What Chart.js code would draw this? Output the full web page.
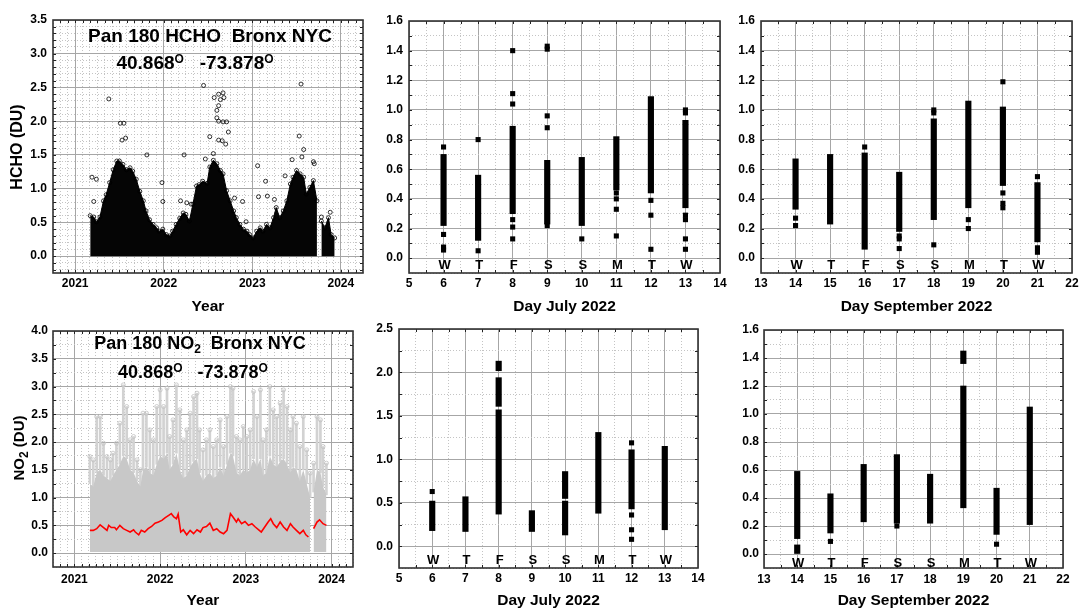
<!DOCTYPE html>
<html><head><meta charset="utf-8">
<script src="https://cdn.jsdelivr.net/npm/chart.js@4.4.1/dist/chart.umd.min.js"></script>
<style>
html,body{margin:0;padding:0;background:#fff;}
body{width:1079px;height:608px;overflow:hidden;position:relative;font-family:"Liberation Sans",Arial,Helvetica,sans-serif;}
canvas{position:absolute;}
.ttl{position:absolute;transform:translate(-50%,-50%);white-space:pre;font-weight:bold;line-height:1;color:#000;z-index:5;}
.ytl{position:absolute;transform:translate(-50%,-50%) rotate(-90deg);white-space:pre;font-weight:bold;line-height:1;color:#000;z-index:5;}
.sup{font-size:12px;position:relative;top:-6px;}
.sub{font-size:12px;position:relative;top:4px;}
</style></head>
<body>
<canvas id="c1"></canvas><canvas id="c2"></canvas><canvas id="c3"></canvas>
<canvas id="c4"></canvas><canvas id="c5"></canvas><canvas id="c6"></canvas>
<div class="ttl" style="left:210px;top:35px;font-size:19px">Pan 180 HCHO  Bronx NYC</div>
<div class="ttl" style="left:195px;top:62px;font-size:19px">40.868<span class="sup">O</span>   -73.878<span class="sup">O</span></div>
<div class="ttl" style="left:200px;top:343px;font-size:18px">Pan 180 NO<span class="sub">2</span>  Bronx NYC</div>
<div class="ttl" style="left:193px;top:372px;font-size:18px">40.868<span class="sup">O</span>   -73.878<span class="sup">O</span></div>
<div class="ytl" style="left:17px;top:147px;font-size:16px">HCHO (DU)</div>
<div class="ytl" style="left:18px;top:448px;font-size:15px">NO<span class="sub">2</span> (DU)</div>
<script>
// ---------- DATA ----------
const weekdayLetters = ['W','T','F','S','S','M','T','W'];
const julyDays = [6,7,8,9,10,11,12,13];
const septDays = [14,15,16,17,18,19,20,21];

// HCHO full record: upper edge of the dense cloud
const hchoYears = [2021.17,2021.21,2021.24,2021.28,2021.32,2021.35,2021.39,2021.43,2021.47,2021.50,
 2021.54,2021.58,2021.62,2021.65,2021.69,2021.73,2021.77,2021.80,2021.84,2021.88,
 2021.92,2021.95,2021.99,2022.03,2022.07,2022.10,2022.14,2022.18,2022.22,2022.25,
 2022.29,2022.33,2022.37,2022.40,2022.44,2022.49,2022.52,2022.56,2022.60,2022.64,
 2022.67,2022.71,2022.75,2022.79,2022.82,2022.86,2022.90,2022.94,2022.97,2023.01,
 2023.05,2023.09,2023.12,2023.16,2023.20,2023.24,2023.27,2023.31,2023.35,2023.39,
 2023.43,2023.46,2023.50,2023.54,2023.58,2023.61,2023.65,2023.69,2023.73,2023.75,
 2023.78,2023.82,2023.86,2023.89,2023.93];
const hchoTop = [0.60,0.58,0.51,0.58,0.82,0.91,1.09,1.28,1.41,1.41,
 1.36,1.28,1.31,1.26,1.14,0.96,0.82,0.67,0.54,0.47,
 0.42,0.37,0.40,0.32,0.30,0.37,0.47,0.56,0.64,0.62,
 0.52,0.77,1.04,1.06,1.11,1.08,1.32,1.42,1.37,1.27,
 1.22,0.97,0.82,0.67,0.57,0.47,0.40,0.37,0.32,0.27,
 0.37,0.42,0.37,0.47,0.42,0.57,0.72,0.57,0.67,0.82,
 1.07,1.17,1.27,1.22,1.17,0.92,1.02,1.12,0.82,null,
 0.52,0.42,0.57,0.32,0.27];
// HCHO isolated high values
const hchoOutYears = [2021.19,2021.24,2021.21,2021.38,2021.51,2021.55,2021.53,2021.57,2021.81,2021.98,
 2021.99,2022.23,2022.19,2022.26,2022.31,2022.45,2022.57,2022.62,2022.64,2022.62,
 2022.60,2022.67,2022.68,2022.60,2022.62,2022.67,2022.71,2022.52,2022.62,2022.66,
 2022.73,2022.70,2022.56,2022.47,2022.80,2022.89,2022.93,2023.06,2023.07,2023.15,
 2023.17,2023.25,2023.37,2023.45,2023.53,2023.55,2023.58,2023.56,2023.69,2023.70,
 2023.78,2023.88];
const hchoOutValues = [1.17,1.14,0.81,2.33,1.97,1.97,1.72,1.75,1.50,1.09,
 0.81,1.50,0.82,0.79,0.77,2.53,2.35,2.40,2.32,2.23,
 2.16,2.42,2.35,2.05,2.00,1.99,1.99,1.77,1.72,1.71,
 1.84,1.66,1.52,1.44,0.86,0.81,0.51,1.34,0.88,1.11,
 0.89,0.84,1.19,1.43,1.78,2.55,1.58,1.47,1.40,1.37,
 0.58,0.65];

// NO2 full record: dense core top and column maxima
const no2Years = [2021.18,2021.22,2021.26,2021.30,2021.34,2021.38,2021.42,2021.45,2021.49,2021.53,
 2021.57,2021.61,2021.65,2021.69,2021.73,2021.77,2021.80,2021.84,2021.88,2021.92,
 2021.96,2022.00,2022.04,2022.08,2022.11,2022.15,2022.19,2022.23,2022.27,2022.31,
 2022.35,2022.39,2022.43,2022.46,2022.50,2022.54,2022.58,2022.62,2022.66,2022.70,
 2022.74,2022.78,2022.82,2022.85,2022.89,2022.93,2022.97,2023.01,2023.05,2023.09,
 2023.13,2023.17,2023.20,2023.24,2023.28,2023.32,2023.36,2023.40,2023.44,2023.48,
 2023.52,2023.55,2023.59,2023.63,2023.67,2023.71,2023.75,2023.77,2023.79,2023.83,
 2023.87,2023.90,2023.94];
const no2Max = [1.74,1.68,2.46,2.46,1.98,1.74,1.68,1.80,1.98,2.34,
 3.03,2.64,2.04,2.10,1.68,1.50,2.52,2.52,2.22,2.04,
 2.64,2.94,2.64,2.97,2.10,2.40,3.03,2.58,2.04,2.22,
 2.52,2.82,2.88,2.22,1.86,2.04,2.22,1.92,2.04,2.40,
 1.92,2.46,3.00,2.97,2.10,2.04,2.28,2.10,2.22,2.91,
 2.46,2.94,2.04,2.22,3.00,2.58,2.46,2.70,2.94,2.64,
 2.22,2.46,2.34,1.92,2.46,1.86,1.44,null,1.62,2.46,
 2.40,1.92,1.62];
const no2Core = [1.25,1.20,1.45,1.50,1.40,1.35,1.30,1.40,1.50,1.60,
 1.75,1.70,1.50,1.45,1.30,1.20,1.50,1.55,1.45,1.40,
 1.60,1.75,1.70,1.80,1.50,1.60,1.80,1.50,1.35,1.40,
 1.55,1.65,1.70,1.45,1.30,1.40,1.45,1.35,1.40,1.55,
 1.40,1.60,1.80,1.75,1.45,1.40,1.50,1.45,1.50,1.70,
 1.55,1.70,1.40,1.45,1.75,1.60,1.55,1.65,1.70,1.60,
 1.45,1.55,1.50,1.30,1.50,1.25,1.00,null,1.10,1.50,
 1.45,1.20,1.05];
// NO2 running mean (red)
const no2MeanYears = [2021.18,2021.22,2021.26,2021.30,2021.34,2021.38,2021.40,2021.43,2021.47,2021.49,
 2021.53,2021.57,2021.61,2021.65,2021.69,2021.71,2021.75,2021.78,2021.82,2021.86,
 2021.90,2021.94,2021.98,2022.02,2022.06,2022.10,2022.13,2022.16,2022.19,2022.21,
 2022.24,2022.27,2022.31,2022.35,2022.39,2022.43,2022.47,2022.50,2022.54,2022.58,
 2022.62,2022.66,2022.70,2022.74,2022.78,2022.82,2022.85,2022.89,2022.91,2022.95,
 2022.99,2023.03,2023.07,2023.11,2023.15,2023.18,2023.22,2023.26,2023.29,2023.32,
 2023.36,2023.40,2023.44,2023.48,2023.52,2023.55,2023.59,2023.63,2023.67,2023.70,
 2023.73,2023.76,2023.79,2023.83,2023.86,2023.90,2023.94];
const no2Mean = [0.41,0.41,0.44,0.51,0.46,0.41,0.50,0.46,0.46,0.42,
 0.50,0.44,0.41,0.38,0.42,0.38,0.33,0.41,0.38,0.44,
 0.48,0.54,0.56,0.59,0.64,0.68,0.71,0.65,0.62,0.70,
 0.38,0.42,0.33,0.41,0.35,0.42,0.38,0.46,0.48,0.54,
 0.41,0.44,0.38,0.35,0.41,0.71,0.65,0.56,0.62,0.53,
 0.57,0.50,0.53,0.47,0.42,0.38,0.47,0.56,0.62,0.53,
 0.46,0.56,0.47,0.41,0.53,0.47,0.41,0.35,0.41,0.33,
 0.29,null,0.44,0.56,0.60,0.53,0.50];

// HCHO July 2022
const hchoJulBarDays = [6,7,8,9,10,11,12,13];
const hchoJulBarLow  = [0.22,0.12,0.30,0.23,0.22,0.46,0.44,0.34];
const hchoJulBarHigh = [0.70,0.56,0.89,0.66,0.68,0.82,1.09,0.93];
const hchoJulPtDays  = [6,6,6,6, 7,7, 8,8,8,8,8,8, 9,9,9,9,9, 10, 11,11,11,11, 12,12,12, 13,13,13,13,13,13];
const hchoJulPtVals  = [0.75,0.16,0.075,0.055, 0.80,0.05, 1.40,1.11,1.04,0.26,0.21,0.13, 1.43,1.41,0.96,0.88,0.22, 0.13, 0.44,0.40,0.33,0.15, 0.39,0.29,0.06, 1.00,0.98,0.29,0.26,0.13,0.06];

// HCHO September 2022
const hchoSepBarDays = [14,15,16,17,18,19,20,21];
const hchoSepBarLow  = [0.33,0.23,0.06,0.18,0.26,0.34,0.49,0.11];
const hchoSepBarHigh = [0.67,0.70,0.71,0.58,0.94,1.06,1.02,0.51];
const hchoSepPtDays  = [14,14, 16, 17,17,17, 18,18,18, 19,19, 20,20,20,20, 21,21,21];
const hchoSepPtVals  = [0.27,0.22, 0.75, 0.15,0.13,0.065, 1.00,0.98,0.09, 0.26,0.20, 1.19,0.44,0.37,0.34, 0.55,0.07,0.04];

// NO2 July 2022
const no2JulBarDays = [6,7,8,8,8,9,10,10,11,12,13];
const no2JulBarLow  = [0.18,0.17,2.02,1.61,0.37,0.17,0.13,0.55,0.38,0.43,0.19];
const no2JulBarHigh = [0.52,0.57,2.13,1.94,1.57,0.41,0.52,0.86,1.31,1.11,1.15];
const no2JulPtDays  = [6, 12,12,12,12];
const no2JulPtVals  = [0.63, 1.19,0.36,0.19,0.08];

// NO2 September 2022
const no2SepBarDays = [14,14,15,16,17,18,19,19,20,21];
const no2SepBarLow  = [0.11,0.00,0.15,0.23,0.22,0.22,1.36,0.33,0.14,0.21];
const no2SepBarHigh = [0.59,0.065,0.43,0.64,0.71,0.57,1.45,1.20,0.47,1.05];
const no2SepPtDays  = [15,17,20];
const no2SepPtVals  = [0.09,0.20,0.07];

// ---------- RENDERING ----------
const FONT = '"Liberation Sans", Arial, Helvetica, sans-serif';
Chart.defaults.font.family = FONT;

const framePlugin = {
  id: 'frame',
  afterDatasetsDraw(chart) {
    const {ctx, chartArea: a} = chart;
    const xm = chart.scales.xm, ym = chart.scales.ym;
    ctx.save();
    ctx.strokeStyle = '#222'; ctx.lineWidth = 1;
    ctx.beginPath();
    xm.ticks.forEach(t => {
      const p = Math.round(xm.getPixelForValue(t.value)) + 0.5;
      if (p < a.left + 1 || p > a.right - 1) return;
      ctx.moveTo(p, a.bottom); ctx.lineTo(p, a.bottom - 3);
      ctx.moveTo(p, a.top); ctx.lineTo(p, a.top + 3);
    });
    ym.ticks.forEach(t => {
      const p = Math.round(ym.getPixelForValue(t.value)) + 0.5;
      if (p < a.top + 1 || p > a.bottom - 1) return;
      ctx.moveTo(a.left, p); ctx.lineTo(a.left + 3, p);
      ctx.moveTo(a.right, p); ctx.lineTo(a.right - 3, p);
    });
    ctx.stroke();
    ctx.lineWidth = 1.6; ctx.strokeStyle = '#333';
    ctx.strokeRect(a.left, a.top, a.right - a.left, a.bottom - a.top);
    ctx.restore();
  }
};

const weekdayPlugin = {
  id: 'weekday',
  afterDatasetsDraw(chart, args, opts) {
    if (!opts || !opts.letters) return;
    const {ctx} = chart; const xs = chart.scales.x, ys = chart.scales.y;
    ctx.save();
    ctx.font = 'bold 13px ' + FONT; ctx.textAlign = 'center'; ctx.textBaseline = 'middle'; ctx.fillStyle = '#000';
    opts.days.forEach((d, i) => ctx.fillText(opts.letters[i], xs.getPixelForValue(d) + 1, ys.getPixelForValue(opts.yValue)));
    ctx.restore();
  }
};

function zeroPad(s){ s.paddingLeft = 0; s.paddingRight = 0; s.paddingTop = 0; s.paddingBottom = 0; }

function buildChart(o) {
  const cv = document.getElementById(o.id);
  cv.width = o.box.w; cv.height = o.box.h;
  cv.style.left = o.box.x + 'px'; cv.style.top = o.box.y + 'px';
  cv.style.width = o.box.w + 'px'; cv.style.height = o.box.h + 'px';
  const yW = o.area.L - o.box.x, xH = o.box.y + o.box.h - o.area.B;
  const tickFont = {family: FONT, size: 12, weight: 'bold'};
  return new Chart(cv, {
    type: o.type,
    data: {datasets: o.datasets},
    options: {
      responsive: false, animation: false, events: [], devicePixelRatio: 1,
      layout: {padding: {left: 0, top: o.area.T - o.box.y, right: o.box.x + o.box.w - o.area.R, bottom: 0}},
      plugins: {legend: {display: false}, tooltip: {enabled: false}, weekday: o.weekday || {}},
      scales: {
        xm: {type: 'linear', axis: 'x', position: 'bottom', min: o.x.min, max: o.x.max, offset: false,
             ticks: {display: false, stepSize: o.x.minor, includeBounds: false},
             grid: {color: '#c4c4c4', lineWidth: 1, drawTicks: false, offset: false},
             border: {display: false, dash: [1, 2]},
             afterFit(s){ s.height = 0; zeroPad(s); }},
        x: {type: 'linear', axis: 'x', position: 'bottom', min: o.x.min, max: o.x.max, offset: false,
            ticks: {stepSize: o.x.major, includeBounds: false, autoSkip: false, maxRotation: 0, minRotation: 0,
                    padding: o.x.pad, color: '#000', font: tickFont, callback: v => String(Math.round(v))},
            grid: {color: '#a6a6a6', lineWidth: 1, drawTicks: false, offset: false},
            border: {display: false},
            title: {display: true, text: o.x.title, color: '#000', font: {family: FONT, size: 15.5, weight: 'bold'}, padding: {top: 0, bottom: 0}},
            afterFit(s){ s.height = xH; zeroPad(s); }},
        ym: {type: 'linear', axis: 'y', position: 'left', min: o.y.min, max: o.y.max,
             ticks: {display: false, stepSize: o.y.minor, includeBounds: false},
             grid: {color: '#c4c4c4', lineWidth: 1, drawTicks: false},
             border: {display: false, dash: [1, 2]},
             afterFit(s){ s.width = 0; zeroPad(s); }},
        y: {type: 'linear', axis: 'y', position: 'left', min: o.y.min, max: o.y.max,
            ticks: {stepSize: o.y.major, includeBounds: false, autoSkip: false, padding: o.y.pad, color: '#000', font: tickFont,
                    callback: v => (Math.abs(v) < 1e-9 ? 0 : v).toFixed(1)},
            grid: {color: '#a6a6a6', lineWidth: 1, drawTicks: false},
            border: {display: false},
            afterFit(s){ s.width = yW; zeroPad(s); }}
      }
    },
    plugins: [framePlugin, weekdayPlugin]
  });
}

const pts = (xs, ys) => xs.map((x, i) => ({x: x, y: ys[i]}));
const bars = (xs, lo, hi) => xs.map((x, i) => ({x: x, y: [lo[i], hi[i]]}));

function dayDatasets(pd, pv, bd, bl, bh) {
  return [
    {type: 'scatter', xAxisID: 'x', yAxisID: 'y', data: pts(pd, pv), pointStyle: 'rect', pointRadius: 3.6,
     backgroundColor: '#000', borderColor: '#000', borderWidth: 0},
    {type: 'bar', xAxisID: 'x', yAxisID: 'y', data: bars(bd, bl, bh), backgroundColor: '#000', borderWidth: 0,
     barThickness: 5.5, grouped: false}
  ];
}

const yearAxis = {min: 2020.75, max: 2024.25, major: 1, minor: 1/12, title: 'Year'};

// Panel 1: HCHO record
buildChart({
  id: 'c1', type: 'scatter', box: {x: 0, y: 0, w: 372, h: 316}, area: {L: 53, T: 20, R: 363, B: 273},
  x: Object.assign({}, yearAxis, {pad: 3}),
  y: {min: -0.25, max: 3.5, major: 0.5, minor: 0.1, pad: 6},
  datasets: [
    {type: 'scatter', xAxisID: 'x', yAxisID: 'y', data: pts(hchoOutYears, hchoOutValues), pointStyle: 'circle', pointRadius: 2,
     borderColor: '#000', borderWidth: 0.8, backgroundColor: 'rgba(0,0,0,0)'},
    {type: 'line', xAxisID: 'x', yAxisID: 'y', data: pts(hchoYears, hchoTop), borderColor: '#000', borderWidth: 1,
     backgroundColor: '#050505', fill: 'origin', tension: 0, spanGaps: false,
     pointRadius: 2, pointStyle: 'circle', pointBorderColor: '#000', pointBorderWidth: 0.8, pointBackgroundColor: 'rgba(0,0,0,0)'}
  ]
});

// Panel 2: HCHO July 2022
buildChart({
  id: 'c2', type: 'bar', box: {x: 365, y: 0, w: 367, h: 316}, area: {L: 409, T: 21, R: 720, B: 273},
  x: {min: 5, max: 14, major: 1, minor: 0.5, title: 'Day July 2022', pad: 3},
  y: {min: -0.1, max: 1.6, major: 0.2, minor: 0.1, pad: 6},
  weekday: {letters: weekdayLetters, days: julyDays, yValue: -0.05},
  datasets: dayDatasets(hchoJulPtDays, hchoJulPtVals, hchoJulBarDays, hchoJulBarLow, hchoJulBarHigh)
});

// Panel 3: HCHO September 2022
buildChart({
  id: 'c3', type: 'bar', box: {x: 718, y: 0, w: 361, h: 316}, area: {L: 761, T: 21, R: 1072, B: 273},
  x: {min: 13, max: 22, major: 1, minor: 0.5, title: 'Day September 2022', pad: 3},
  y: {min: -0.1, max: 1.6, major: 0.2, minor: 0.1, pad: 6},
  weekday: {letters: weekdayLetters, days: septDays, yValue: -0.05},
  datasets: dayDatasets(hchoSepPtDays, hchoSepPtVals, hchoSepBarDays, hchoSepBarLow, hchoSepBarHigh)
});

// Panel 4: NO2 record
const no2ColIdx = no2Years.map((x, i) => i).filter(i => no2Max[i] !== null);
buildChart({
  id: 'c4', type: 'bar', box: {x: 0, y: 312, w: 370, h: 298}, area: {L: 53, T: 331, R: 353, B: 567},
  x: Object.assign({}, yearAxis, {pad: 5}),
  y: {min: -0.25, max: 4.0, major: 0.5, minor: 0.25, pad: 5},
  datasets: [
    {type: 'line', xAxisID: 'x', yAxisID: 'y', data: pts(no2MeanYears, no2Mean), borderColor: '#ff0000', borderWidth: 1.6,
     pointRadius: 0, fill: false, tension: 0, spanGaps: false},
    {type: 'scatter', xAxisID: 'x', yAxisID: 'y', data: no2ColIdx.map(i => ({x: no2Years[i], y: no2Max[i]})), pointStyle: 'circle',
     pointRadius: 2, borderColor: '#c2c2c2', borderWidth: 0.8, backgroundColor: 'rgba(0,0,0,0)'},
    {type: 'line', xAxisID: 'x', yAxisID: 'y', data: pts(no2Years, no2Core), borderWidth: 0, borderColor: 'rgba(0,0,0,0)',
     backgroundColor: '#c8c8c8', fill: {value: 0.02}, pointRadius: 0, tension: 0, spanGaps: false},
    {type: 'bar', xAxisID: 'x', yAxisID: 'y', data: no2ColIdx.map(i => ({x: no2Years[i], y: [no2Core[i], no2Max[i]]})),
     backgroundColor: '#d2d2d2', borderWidth: 0, barThickness: 2, grouped: false}
  ]
});

// Panel 5: NO2 July 2022
buildChart({
  id: 'c5', type: 'bar', box: {x: 360, y: 312, w: 360, h: 298}, area: {L: 399, T: 329, R: 698, B: 568},
  x: {min: 5, max: 14, major: 1, minor: 0.5, title: 'Day July 2022', pad: 3},
  y: {min: -0.25, max: 2.5, major: 0.5, minor: 0.25, pad: 6},
  weekday: {letters: weekdayLetters, days: julyDays, yValue: -0.16},
  datasets: dayDatasets(no2JulPtDays, no2JulPtVals, no2JulBarDays, no2JulBarLow, no2JulBarHigh)
});

// Panel 6: NO2 September 2022
buildChart({
  id: 'c6', type: 'bar', box: {x: 720, y: 312, w: 359, h: 298}, area: {L: 764, T: 330, R: 1063, B: 568},
  x: {min: 13, max: 22, major: 1, minor: 0.5, title: 'Day September 2022', pad: 4},
  y: {min: -0.1, max: 1.6, major: 0.2, minor: 0.1, pad: 5},
  weekday: {letters: weekdayLetters, days: septDays, yValue: -0.065},
  datasets: dayDatasets(no2SepPtDays, no2SepPtVals, no2SepBarDays, no2SepBarLow, no2SepBarHigh)
});
</script>
</body></html>
